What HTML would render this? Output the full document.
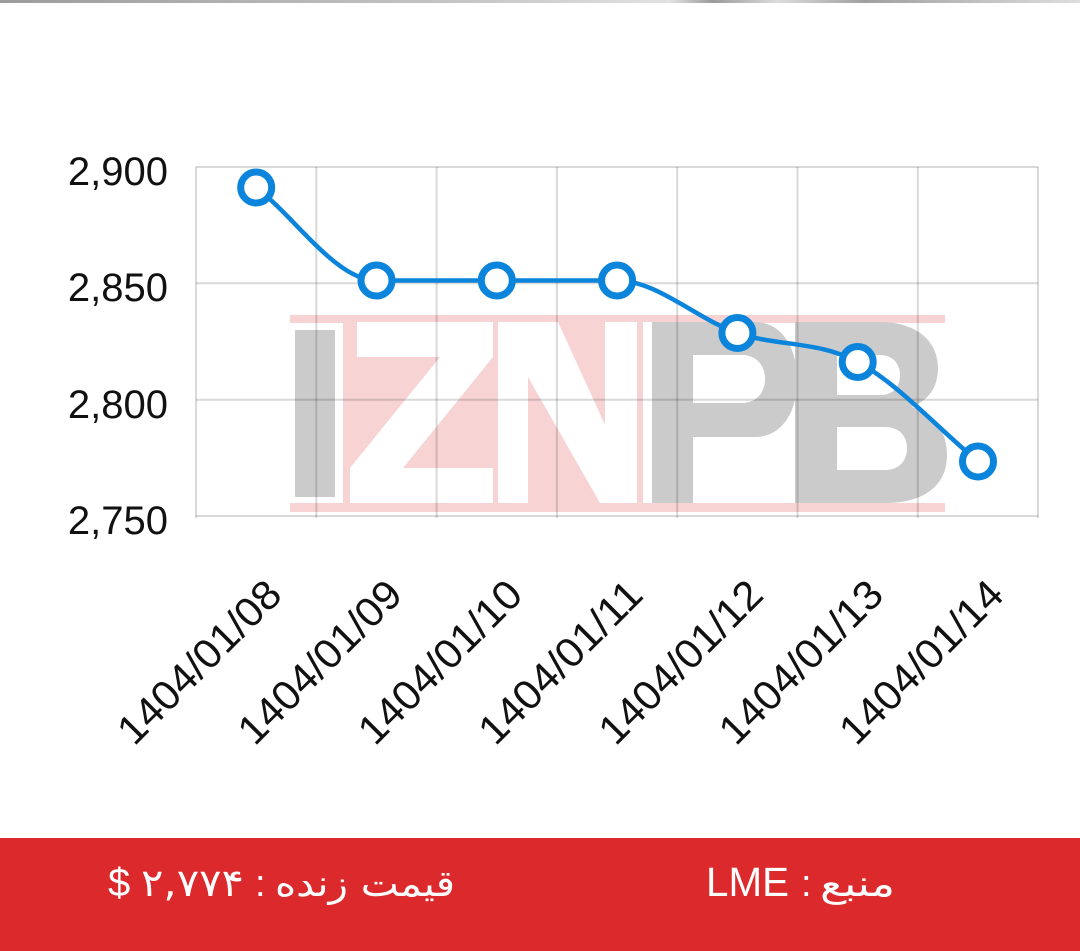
<!DOCTYPE html>
<html><head><meta charset="utf-8">
<style>
html,body{margin:0;padding:0;background:#fff;}
body{width:1080px;height:951px;overflow:hidden;position:relative;}
svg{display:block;}
</style></head>
<body>
<svg width="1080" height="951" viewBox="0 0 1080 951" xmlns="http://www.w3.org/2000/svg">
<defs>
<linearGradient id="tg" x1="0" x2="1" y1="0" y2="0">
<stop offset="0" stop-color="#9c9c9c"/>
<stop offset="0.45" stop-color="#c8c8c8"/>
<stop offset="0.62" stop-color="#e2e2e2"/>
<stop offset="0.66" stop-color="#9a9a9a"/>
<stop offset="0.72" stop-color="#dcdcdc"/>
<stop offset="0.8" stop-color="#a0a0a0"/>
<stop offset="1" stop-color="#dedede"/>
</linearGradient>
</defs>
<rect x="0" y="0" width="1080" height="951" fill="#fff"/>
<rect x="0" y="0" width="1080" height="3" fill="url(#tg)"/>

<!-- watermark -->
<g>
<rect x="290" y="315" width="655" height="8" fill="#f7d3d4"/>
<rect x="290" y="503" width="655" height="9" fill="#f7d3d4"/>
<rect x="343" y="315" width="300" height="197" fill="#f7d3d4"/>
<rect x="295" y="330" width="40" height="167" fill="#cbcbcb"/>
<polygon points="357,322 493,322 493,357 403,468 493,468 493,503 350,503 350,468 440,357 357,357" fill="#fff"/>
<polygon points="498,322 558,322 605,425 605,322 637,322 637,503 600,503 528,377 528,503 498,503" fill="#fff"/>
<rect x="643" y="322" width="9" height="181" fill="#fff"/>
<path fill="#cbcbcb" fill-rule="evenodd" d="M652,322 H755 C780,322 797,345 797,380 C797,415 780,437 755,437 H693 V503 H652 Z M693,355 H742 C756,355 765,365 765,379 C765,393 756,403 742,403 H693 Z"/>
<path fill="#cbcbcb" fill-rule="evenodd" d="M795,322 H880 C915,322 938,340 938,368 C938,388 928,400 912,407 C935,415 947,432 947,455 C947,485 925,503 885,503 H795 Z M837,355 H880 C893,355 900,364 900,375 C900,387 893,395 880,395 H837 Z M837,427 H885 C900,427 907,437 907,448 C907,460 900,470 885,470 H837 Z"/>
</g>

<!-- grid -->
<g stroke="rgba(0,0,0,0.15)" stroke-width="2" fill="none">
<line x1="196" y1="167" x2="1038" y2="167"/>
<line x1="196" y1="283.3" x2="1038" y2="283.3"/>
<line x1="196" y1="399.7" x2="1038" y2="399.7"/>
<line x1="196" y1="516" x2="1038" y2="516"/>
<line x1="196" y1="167" x2="196" y2="518"/>
<line x1="316.3" y1="167" x2="316.3" y2="518"/>
<line x1="436.6" y1="167" x2="436.6" y2="518"/>
<line x1="556.9" y1="167" x2="556.9" y2="518"/>
<line x1="677.2" y1="167" x2="677.2" y2="518"/>
<line x1="797.5" y1="167" x2="797.5" y2="518"/>
<line x1="917.8" y1="167" x2="917.8" y2="518"/>
<line x1="1038" y1="167" x2="1038" y2="518"/>
</g>

<!-- y labels -->
<g font-family="'Liberation Sans', sans-serif" font-size="40" fill="#111" text-anchor="end">
<text x="168" y="185">2,900</text>
<text x="168" y="301">2,850</text>
<text x="168" y="418">2,800</text>
<text x="168" y="534">2,750</text>
</g>

<!-- series -->
<path d="M256.2,187.5 C296.3,218.5 336.4,280.5 376.5,280.5 L496.8,280.5 L617.1,280.5 C657.2,280.5 697.3,319.4 737.4,333 C777.5,346.6 817.6,340.6 857.7,362 C897.8,383.4 937.9,428.3 978,461.5" fill="none" stroke="#0b84db" stroke-width="4.5"/>
<g fill="#fff" stroke="#0b84db" stroke-width="7">
<circle cx="256.2" cy="187.5" r="15.5"/>
<circle cx="376.5" cy="280.5" r="15.5"/>
<circle cx="496.8" cy="280.5" r="15.5"/>
<circle cx="617.1" cy="280.5" r="15.5"/>
<circle cx="737.4" cy="333" r="15.5"/>
<circle cx="857.7" cy="362" r="15.5"/>
<circle cx="978" cy="461.5" r="15.5"/>
</g>

<!-- x labels -->
<g font-family="'Liberation Sans', sans-serif" font-size="41" fill="#111" text-anchor="end">
<text transform="translate(284,597) rotate(-45)" textLength="212" lengthAdjust="spacingAndGlyphs">1404/01/08</text>
<text transform="translate(404.5,597) rotate(-45)" textLength="212" lengthAdjust="spacingAndGlyphs">1404/01/09</text>
<text transform="translate(524.8,597) rotate(-45)" textLength="212" lengthAdjust="spacingAndGlyphs">1404/01/10</text>
<text transform="translate(645.1,597) rotate(-45)" textLength="212" lengthAdjust="spacingAndGlyphs">1404/01/11</text>
<text transform="translate(765.4,597) rotate(-45)" textLength="212" lengthAdjust="spacingAndGlyphs">1404/01/12</text>
<text transform="translate(885.7,597) rotate(-45)" textLength="212" lengthAdjust="spacingAndGlyphs">1404/01/13</text>
<text transform="translate(1006,597) rotate(-45)" textLength="212" lengthAdjust="spacingAndGlyphs">1404/01/14</text>
</g>

<!-- footer -->
<rect x="0" y="838" width="1080" height="113" fill="#dc292b"/>
<g fill="#fff">
<text x="706" y="896" font-family="'Liberation Sans', sans-serif" font-size="41" textLength="83" lengthAdjust="spacingAndGlyphs">LME</text>
<text x="801" y="896" font-family="'Liberation Sans', sans-serif" font-size="38">:</text>
<text x="820" y="896" font-family="'DejaVu Sans', sans-serif" font-size="36" textLength="75" lengthAdjust="spacingAndGlyphs">منبع</text>
<text x="108" y="896" font-family="'Liberation Sans', sans-serif" font-size="40">$</text>
<text x="141" y="896" font-family="'DejaVu Sans', sans-serif" font-size="38" textLength="103" lengthAdjust="spacingAndGlyphs">۲,۷۷۴</text>
<text x="255" y="896" font-family="'Liberation Sans', sans-serif" font-size="38">:</text>
<text x="275" y="896" font-family="'DejaVu Sans', sans-serif" font-size="36" textLength="180" lengthAdjust="spacingAndGlyphs">قیمت زنده</text>
</g>
</svg>
</body></html>
